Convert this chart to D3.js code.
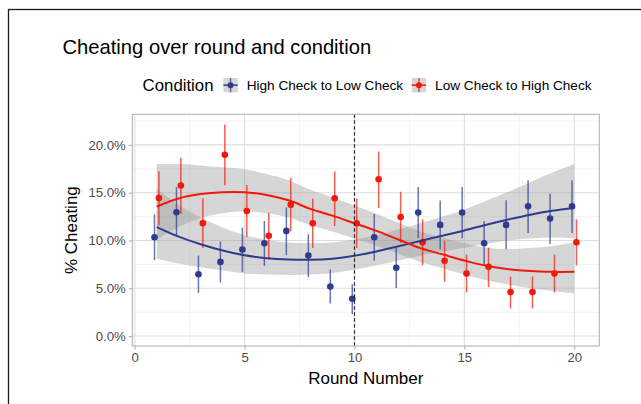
<!DOCTYPE html>
<html>
<head>
<meta charset="utf-8">
<style>
  body { margin: 0; background: #fff; }
  svg { display: block; font-family: "Liberation Sans", Arial, sans-serif; }
</style>
</head>
<body>
<svg id="chart" width="641" height="404"></svg>
<script src="https://cdnjs.cloudflare.com/ajax/libs/d3/7.8.5/d3.min.js"></script>
<script>
// ---- data ----
let rounds = [1,2,3,4,5,6,7,8,9,10,11,12,13,14,15,16,17,18,19,20];

let conditions = ["High Check to Low Check", "Low Check to High Check"];
let colors = ["#2e3b8e", "#f0190a"];

// observed mean and error bar ends (%)
let highMean = [10.34,12.95,6.47,7.76,9.05,9.71,11.0,8.43,5.19,3.9,10.34,7.14,12.92,11.63,12.92,9.71,11.63,13.58,12.29,13.58];
let highLo   = [7.94,10.37,4.53,5.6,6.72,7.34,8.46,6.16,3.41,2.3,7.9,5.04,10.27,9.09,10.2,7.34,9.09,10.79,9.64,10.79];
let highHi   = [12.74,15.6,8.43,9.89,11.35,12.04,13.47,10.65,6.96,5.43,12.77,9.22,15.6,14.17,15.6,12.04,14.2,16.29,14.9,16.29];

let lowMean = [14.44,15.74,11.8,18.97,13.09,10.5,13.75,11.8,14.41,11.8,16.4,12.46,9.82,7.87,6.54,7.24,4.6,4.6,6.54,9.82];
let lowLo   = [11.6,12.78,9.22,15.77,10.37,8.0,10.97,9.22,11.52,9.22,13.4,9.78,7.4,5.67,4.56,5.12,2.89,2.89,4.56,7.4];
let lowHi   = [17.23,18.66,14.38,22.14,15.8,12.9,16.53,14.38,17.23,14.38,19.3,15.1,12.2,9.99,8.53,9.26,6.23,6.23,8.53,12.2];

// smoothed fit and its band (%)
let highFit    = [11.4,10.4,9.6,8.95,8.45,8.15,8.0,7.98,8.1,8.4,8.85,9.4,9.95,10.5,11.05,11.65,12.2,12.7,13.1,13.4];
let highBandLo = [8.1,7.6,7.2,6.85,6.55,6.45,6.4,6.43,6.6,6.95,7.4,7.9,8.4,8.85,9.25,9.65,10.0,10.2,10.3,10.2];
let highBandHi = [15.4,13.7,12.4,11.35,10.55,10.05,9.8,9.73,9.8,10.1,10.55,11.15,11.8,12.5,13.25,14.15,15.1,16.1,17.1,18.0];

let lowFit    = [13.55,14.4,14.85,15.05,15.05,14.75,14.2,13.3,12.6,11.8,11.0,10.1,9.2,8.55,7.9,7.35,7.0,6.8,6.72,6.72];
let lowBandLo = [10.05,11.4,12.35,12.85,13.05,12.85,12.4,11.6,10.95,10.2,9.45,8.6,7.75,7.1,6.45,5.85,5.4,5.0,4.72,4.46];
let lowBandHi = [18.0,18.0,17.85,17.65,17.45,16.95,16.3,15.3,14.5,13.65,12.8,11.85,10.95,10.3,9.7,9.25,9.1,9.2,9.42,9.82];

let xTicks = [0, 5, 10, 15, 20];
let yTicks = [0, 0.05, 0.10, 0.15, 0.20];

// ---- layout ----
let svg = d3.select("#chart");
let pL = 132.3, pR = 599.3, pT = 114.3, pB = 346;

let x = d3.scaleLinear().domain([-0.11, 21.14]).range([pL, pR]);
let y = d3.scaleLinear().domain([-0.0104, 0.232]).range([pB, pT]);

// outer frame
svg.append("rect")
  .attr("x", 8.5).attr("y", 9.5)
  .attr("width", 700).attr("height", 500)
  .attr("fill", "none").attr("stroke", "#1a1a1a").attr("stroke-width", 1.3);

// title
svg.append("text")
  .attr("x", 62.5).attr("y", 54)
  .attr("font-size", 20.2).attr("fill", "#000")
  .text("Cheating over round and condition");

// grid
let grid = svg.append("g");
let minorX = [2.5, 7.5, 12.5, 17.5];
let minorY = [0.025, 0.075, 0.125, 0.175, 0.225];
grid.selectAll(".mx").data(minorX).enter().append("line")
  .attr("x1", d => x(d)).attr("x2", d => x(d)).attr("y1", pT).attr("y2", pB)
  .attr("stroke", "#ebebeb").attr("stroke-width", 0.6);
grid.selectAll(".my").data(minorY).enter().append("line")
  .attr("y1", d => y(d)).attr("y2", d => y(d)).attr("x1", pL).attr("x2", pR)
  .attr("stroke", "#ebebeb").attr("stroke-width", 0.6);
grid.selectAll(".gx").data(xTicks).enter().append("line")
  .attr("x1", d => x(d)).attr("x2", d => x(d)).attr("y1", pT).attr("y2", pB)
  .attr("stroke", "#dedede").attr("stroke-width", 1.1);
grid.selectAll(".gy").data(yTicks).enter().append("line")
  .attr("y1", d => y(d)).attr("y2", d => y(d)).attr("x1", pL).attr("x2", pR)
  .attr("stroke", "#dedede").attr("stroke-width", 1.1);

// series tables
let series = [
  { mean: highMean, lo: highLo, hi: highHi, fit: highFit, bLo: highBandLo, bHi: highBandHi, dodge: -0.1 },
  { mean: lowMean, lo: lowLo, hi: lowHi, fit: lowFit, bLo: lowBandLo, bHi: lowBandHi, dodge: 0.1 }
];

let area = d3.area()
  .x(d => x(d.r)).y0(d => y(d.lo / 100)).y1(d => y(d.hi / 100))
  .curve(d3.curveCatmullRom);
let line = d3.line()
  .x(d => x(d.r)).y(d => y(d.v / 100))
  .curve(d3.curveCatmullRom);

let plot = svg.append("g");

// ribbons
series.forEach(s => {
  plot.append("path")
    .datum(rounds.map((r, i) => ({ r: r, lo: s.bLo[i], hi: s.bHi[i] })))
    .attr("d", area)
    .attr("fill", "#999999").attr("fill-opacity", 0.4);
});

// error bars and points
series.forEach((s, k) => {
  let pts = rounds.map((r, i) => ({ r: r + s.dodge, m: s.mean[i], lo: s.lo[i], hi: s.hi[i] }));
  plot.append("g").selectAll("line").data(pts).enter().append("line")
    .attr("x1", d => x(d.r)).attr("x2", d => x(d.r))
    .attr("y1", d => y(d.lo / 100)).attr("y2", d => y(d.hi / 100))
    .attr("stroke", colors[k]).attr("stroke-opacity", 0.7).attr("stroke-width", 1.5);
  plot.append("g").selectAll("circle").data(pts).enter().append("circle")
    .attr("cx", d => x(d.r)).attr("cy", d => y(d.m / 100)).attr("r", 3.3)
    .attr("fill", colors[k]);
});

// fitted lines
series.forEach((s, k) => {
  plot.append("path")
    .datum(rounds.map((r, i) => ({ r: r, v: s.fit[i] })))
    .attr("d", line)
    .attr("fill", "none").attr("stroke", colors[k]).attr("stroke-width", 2);
});

// dashed vertical at round 10
plot.append("line")
  .attr("x1", x(10)).attr("x2", x(10)).attr("y1", pT).attr("y2", pB)
  .attr("stroke", "#2a2a2a").attr("stroke-width", 1.2).attr("stroke-dasharray", "3.5,2.5");

// panel border
svg.append("rect")
  .attr("x", pL).attr("y", pT).attr("width", pR - pL).attr("height", pB - pT)
  .attr("fill", "none").attr("stroke", "#b3b3b3").attr("stroke-width", 1.1);

// axes
let xAxis = svg.append("g").attr("transform", `translate(0,${pB})`)
  .call(d3.axisBottom(x).tickValues(xTicks).tickSize(3.5).tickPadding(3));
let yAxis = svg.append("g").attr("transform", `translate(${pL},0)`)
  .call(d3.axisLeft(y).tickValues(yTicks).tickFormat(d3.format(".1%")).tickSize(3.5).tickPadding(3));
[xAxis, yAxis].forEach(a => {
  a.select(".domain").remove();
  a.selectAll(".tick line").attr("stroke", "#b3b3b3").attr("stroke-width", 1.1);
  a.selectAll(".tick text").attr("fill", "#4d4d4d").attr("font-size", 13.2)
    .attr("font-family", "Liberation Sans, Arial, sans-serif");
});

// axis titles
svg.append("text")
  .attr("x", (pL + pR) / 2).attr("y", 383.5).attr("text-anchor", "middle")
  .attr("font-size", 17).text("Round Number");
svg.append("text")
  .attr("transform", `translate(77.3,${(pT + pB) / 2}) rotate(-90)`)
  .attr("text-anchor", "middle").attr("font-size", 17).text("% Cheating");

// legend
let lg = svg.append("g");
lg.append("text").attr("x", 142.6).attr("y", 91).attr("font-size", 16.8).text("Condition");
let keyX = [223.4, 411.8];
conditions.forEach((c, k) => {
  let g = lg.append("g").attr("transform", `translate(${keyX[k]},78)`);
  g.append("rect").attr("width", 14.3).attr("height", 14.3).attr("fill", "#999999").attr("fill-opacity", 0.4);
  g.append("line").attr("x1", 0).attr("x2", 14.3).attr("y1", 7.15).attr("y2", 7.15)
    .attr("stroke", colors[k]).attr("stroke-width", 1.5);
  g.append("line").attr("x1", 7.15).attr("x2", 7.15).attr("y1", 0).attr("y2", 14.3)
    .attr("stroke", colors[k]).attr("stroke-opacity", 0.7).attr("stroke-width", 1.5);
  g.append("circle").attr("cx", 7.15).attr("cy", 7.15).attr("r", 3).attr("fill", colors[k]);
  g.append("text").attr("x", 23.3).attr("y", 12.4).attr("font-size", 13.6).text(c);
});
</script>
</body>
</html>
